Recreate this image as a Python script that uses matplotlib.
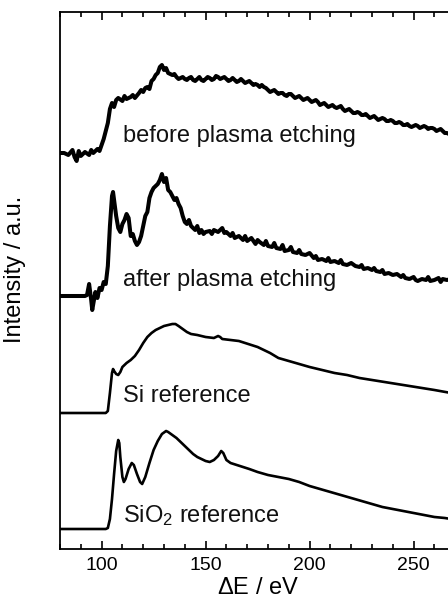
import matplotlib
matplotlib.use("Agg")
import matplotlib.pyplot as plt
from matplotlib.ticker import MultipleLocator, NullLocator

plt.rcParams['font.family'] = ['Liberation Sans', 'DejaVu Sans']
plt.rcParams['mathtext.fontset'] = 'custom'
plt.rcParams['mathtext.rm'] = 'Liberation Sans'
plt.rcParams['mathtext.it'] = 'Liberation Sans:italic'

# ---- data (energy loss in eV, intensity in arbitrary units above each baseline) ----
before_E = [80, 82, 84, 86, 87, 88, 89, 90, 92, 94, 95, 96, 98, 99, 100, 101, 102, 103,
            104, 105, 106, 107, 108, 110, 111, 112, 114, 115, 116, 118, 119, 120, 121,
            122, 123, 124, 125, 126, 127, 128, 129, 130, 131, 132, 133, 134, 136, 138,
            140, 142, 144, 146, 148, 150, 152, 154, 156, 158, 160, 162, 164, 166, 168,
            170, 172, 174, 176, 177, 178, 180, 182, 184, 186, 188, 190, 192, 194, 196,
            198, 200, 202, 204, 206, 208, 210, 212, 214, 216, 218, 220, 222, 224, 226,
            228, 230, 232, 234, 236, 238, 240, 242, 244, 246, 248, 250, 252, 254, 256,
            258, 260, 262, 264, 266, 268,
            135, 137, 139, 141, 143, 145, 147, 149, 151, 153, 155, 157, 159, 161, 163,
            165, 167, 169, 171, 173, 175, 179, 181, 183, 185, 187, 189, 191, 193, 195,
            197, 199, 201, 203, 205, 207, 209, 211, 213, 215, 217, 219, 221, 223, 225,
            227, 229, 231, 233, 235, 237, 239, 241, 243, 245, 247, 249, 251, 253, 255,
            257, 259, 261, 263, 265, 267]
before_I = [0, 0, -2, 3, -4, -8, 2, -3, 1, -2, 3, 0, 4, 2, 8, 14, 22, 30,
            44, 50, 46, 53, 55, 52, 57, 54, 56, 58, 55, 60, 63, 61, 65,
            66, 64, 72, 74, 78, 80, 86, 88, 83, 85, 80, 79, 78, 76, 75,
            74, 75, 73, 74, 73, 74, 75, 74, 76, 75, 74, 73, 73, 72, 72,
            71, 70, 69, 66, 68, 66, 63, 62, 61, 60, 58, 59, 57, 56, 55,
            54, 53, 52, 51, 49, 48, 47, 46, 46, 44, 43, 42, 40, 40, 38,
            37, 36, 35, 34, 34, 32, 32, 30, 30, 28, 27, 27, 27, 26, 26,
            25, 24, 23, 22, 20, 18,
            79, 74, 76, 73, 76, 72, 76, 72, 76, 73, 77, 74, 76, 72, 75,
            71, 74, 70, 72, 68, 68, 65, 61, 63, 59, 60, 57, 59, 55, 57,
            53, 55, 51, 53, 48, 50, 46, 48, 45, 47, 42, 44, 40, 41, 38,
            39, 35, 37, 33, 35, 32, 33, 30, 31, 28, 29, 26, 28, 25, 27,
            24, 25, 22, 24, 20, 19]

after_E = [80, 84, 88, 92, 93, 94, 95, 95.5, 96, 97, 98, 99, 100, 101, 102, 103, 104,
           105, 105.5, 106, 107, 108, 109, 110, 111, 112, 113, 114, 115, 116, 117, 118,
           119, 120, 121, 122, 123, 124, 125, 126, 127, 128, 129, 130, 131, 132, 133,
           134, 135, 136, 137, 138, 139, 140, 141, 142, 143, 144, 145, 146, 147, 148,
           149, 150, 152, 153, 154, 156, 158, 159, 160, 162, 163, 164, 166, 168, 169,
           170, 172, 174, 175, 176, 178, 179, 180, 182, 183, 184, 186, 187, 188, 190,
           191, 192, 194, 195, 196, 198, 200, 202, 203, 204, 206, 208, 209, 210, 212,
           214, 215, 216, 218, 220, 222, 224, 225, 226, 228, 230, 231, 232, 234, 235,
           236, 238, 240, 242, 244, 245, 246, 248, 250, 251, 252, 254, 256, 257, 258,
           260, 262, 263, 264, 266, 268]
after_I = [0, 0, 0, 0, 1, 12, -4, -14, -8, 4, -2, 8, 6, 14, 12, 30, 70,
           100, 104, 96, 80, 68, 64, 72, 76, 82, 78, 60, 62, 55, 51, 54,
           60, 70, 80, 84, 98, 104, 108, 110, 112, 116, 122, 114, 118, 106, 104,
           100, 96, 98, 92, 88, 80, 74, 72, 76, 70, 68, 66, 70, 63, 66,
           62, 64, 65, 62, 66, 64, 68, 63, 64, 60, 63, 58, 60, 56, 60,
           55, 58, 52, 56, 54, 51, 55, 50, 49, 53, 48, 47, 51, 45, 46,
           49, 44, 43, 46, 42, 41, 43, 38, 40, 36, 37, 35, 38, 34, 35,
           33, 36, 32, 31, 33, 30, 29, 31, 27, 28, 26, 28, 25, 24, 26,
           22, 23, 21, 22, 19, 21, 18, 17, 19, 16, 15, 17, 16, 19, 15,
           16, 18, 14, 17, 16, 17]

si_E = [80, 90, 100, 102, 103, 104, 105, 105.5, 106, 107, 108, 109, 110, 112, 114,
        116, 118, 120, 122, 124, 126, 128, 130, 132, 134, 135.5, 137, 139, 141, 143,
        146, 150, 154, 156, 157, 158, 162, 166, 169, 172, 175, 178, 181, 185, 190,
        195, 200, 206, 212, 218, 224, 230, 236, 242, 248, 254, 260, 268]
si_I = [0, 0, 0, 0, 2, 20, 40, 44, 42, 39, 38, 41, 46, 50, 53,
        57, 63, 70, 76, 80, 83, 85, 87, 88, 89, 89, 87, 84, 81, 79,
        78, 76, 75, 77, 76, 74, 73, 72, 70, 68, 66, 63, 60, 55, 52,
        49, 46, 43, 40, 38, 35, 33, 31, 29, 27, 25, 23, 20]

sio2_E = [80, 90, 100, 102, 103, 104, 105, 106, 107, 108, 108.5, 109, 110, 110.7,
          111.5, 113, 114.5, 115.5, 117, 118.5, 119.5, 121, 123, 125, 127, 129, 131,
          132, 134, 136, 138, 140, 142, 144, 146, 148, 150, 152, 154, 156, 157.5,
          158.5, 160, 162, 165, 168, 171, 175, 180, 185, 190, 195, 200, 205, 210,
          215, 220, 225, 230, 235, 240, 245, 250, 255, 260, 265, 268]
sio2_I = [0, 0, 0, 0, 1, 10, 30, 55, 78, 89, 86, 72, 52, 47,
          50, 60, 66, 64, 55, 47, 45, 52, 66, 79, 88, 95, 98,
          97, 94, 91, 87, 83, 79, 75, 72, 70, 68, 67, 69, 73, 78,
          76, 69, 66, 64, 62, 60, 57, 54, 52, 50, 47, 43, 40, 37,
          34, 31, 28, 25, 22, 20, 18, 16, 14, 12, 11, 10]

series = [
    (before_E, before_I, 396, "before plasma etching", 407, 2.9),
    (after_E, after_I, 253, "after plasma etching", 263, 2.9),
    (si_E, si_I, 136, "Si reference", 147, 1.9),
    (sio2_E, sio2_I, 20, "SiO$_2$ reference", 27, 1.9),
]

fig = plt.figure(figsize=(4.48, 6.06), dpi=100)
ax = fig.add_axes([60 / 448, 57 / 606, 395.2 / 448, 537 / 606])

for E, I, off, label, ty, lw in series:
    pts = sorted(zip(E, I))
    ax.plot([p[0] for p in pts], [p[1] + off for p in pts], color='black', lw=lw,
            solid_joinstyle='round')
    ax.text(110.3, ty, label, fontsize=17, va='baseline', ha='left', color='#111111')

ax.set_xlim(80, 270)
ax.set_ylim(0, 537)
ax.xaxis.set_major_locator(MultipleLocator(50))
ax.xaxis.set_minor_locator(MultipleLocator(10))
ax.yaxis.set_major_locator(NullLocator())
ax.tick_params(axis='x', which='both', direction='in', top=True, bottom=True,
               labelsize=14, width=1.2, pad=6)
ax.tick_params(axis='x', which='major', length=6)
ax.tick_params(axis='x', which='minor', length=3.5)
for s in ax.spines.values():
    s.set_linewidth(1.3)

ax.set_xlabel(r"$\Delta$E / eV", fontsize=17, labelpad=2)
ax.set_ylabel("Intensity / a.u.", fontsize=17)
ax.yaxis.set_label_coords(-0.085, 0.52)

fig.savefig("out.png", dpi=100)
